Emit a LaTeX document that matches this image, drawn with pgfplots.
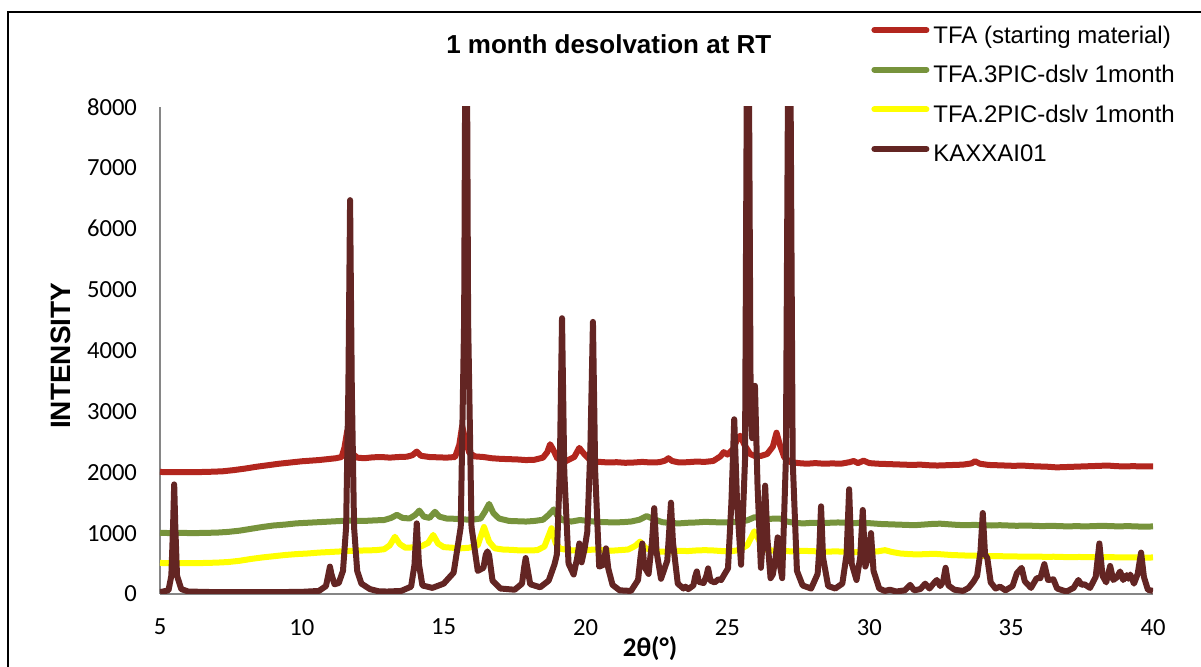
\documentclass[border=0pt]{standalone}
\usepackage{pgfplots}
\usepackage{pgfplotstable}
\pgfplotsset{compat=1.18}
\usepackage{fontspec}
\setmainfont{Liberation Sans}
\newfontfamily\carlito{Carlito}

\definecolor{tfared}{RGB}{178,38,30}
\definecolor{picgreen}{RGB}{119,147,60}
\definecolor{picyellow}{RGB}{255,255,0}
\definecolor{kaxmaroon}{RGB}{99,37,35}
\definecolor{axisgray}{RGB}{134,134,134}

% TFA (starting material)
\pgfplotstableread{
x y
5.0 2005
5.3 2000
5.6 2002
6.0 2000
6.4 2003
6.8 2008
7.2 2015
7.6 2035
8.0 2060
8.4 2090
8.8 2115
9.2 2140
9.6 2160
10.0 2180
10.3 2190
10.6 2200
10.9 2215
11.2 2230
11.4 2250
11.5 2400
11.6 2680
11.7 2500
11.8 2300
11.95 2240
12.2 2230
12.5 2245
12.8 2250
13.1 2240
13.4 2250
13.7 2255
13.9 2280
14.05 2340
14.2 2270
14.5 2250
14.8 2245
15.1 2240
15.4 2250
15.55 2450
15.65 2760
15.75 2550
15.9 2320
16.1 2260
16.4 2250
16.7 2230
17.0 2220
17.3 2215
17.6 2210
17.9 2200
18.2 2205
18.5 2240
18.65 2330
18.75 2460
18.85 2380
19.0 2230
19.3 2180
19.6 2250
19.78 2400
19.95 2300
20.2 2180
20.5 2170
20.8 2160
21.1 2165
21.4 2155
21.7 2160
22.0 2170
22.3 2160
22.6 2165
22.8 2190
22.92 2230
23.05 2185
23.3 2160
23.6 2165
23.9 2175
24.2 2170
24.5 2185
24.75 2260
24.87 2330
25.0 2290
25.2 2380
25.35 2550
25.45 2600
25.6 2450
25.8 2300
26.0 2260
26.2 2270
26.4 2300
26.6 2420
26.73 2650
26.85 2450
27.0 2250
27.2 2170
27.5 2150
27.8 2140
28.1 2150
28.4 2140
28.7 2145
29.0 2140
29.3 2165
29.45 2185
29.6 2150
29.8 2190
30.0 2150
30.3 2140
30.6 2135
30.9 2130
31.2 2125
31.5 2120
31.8 2125
32.1 2115
32.4 2110
32.7 2115
33.0 2120
33.3 2125
33.6 2145
33.73 2180
33.9 2140
34.2 2120
34.5 2115
34.8 2110
35.1 2105
35.4 2110
35.7 2100
36.0 2095
36.3 2090
36.6 2080
36.9 2085
37.2 2090
37.5 2095
37.8 2100
38.1 2105
38.4 2110
38.7 2100
39.0 2095
39.3 2100
39.6 2095
40.0 2095
}\tfastart

% TFA.3PIC desolvated, 1 month
\pgfplotstableread{
x y
5.0 1005
5.4 1000
5.8 1003
6.2 1000
6.6 1004
7.0 1008
7.4 1020
7.8 1040
8.2 1070
8.6 1100
9.0 1125
9.4 1140
9.8 1160
10.2 1170
10.6 1180
11.0 1190
11.4 1200
11.8 1205
12.2 1200
12.6 1210
12.9 1215
13.15 1250
13.35 1300
13.55 1250
13.8 1240
14.0 1300
14.14 1370
14.3 1270
14.5 1250
14.69 1350
14.85 1270
15.1 1240
15.4 1235
15.7 1225
16.0 1220
16.3 1240
16.45 1350
16.6 1480
16.75 1330
16.95 1240
17.3 1200
17.6 1195
17.9 1190
18.2 1200
18.5 1220
18.7 1300
18.88 1390
19.0 1290
19.2 1210
19.5 1190
19.8 1215
20.1 1200
20.4 1185
20.7 1180
21.0 1175
21.3 1180
21.6 1190
21.9 1220
22.15 1280
22.4 1230
22.7 1180
23.0 1165
23.3 1160
23.6 1170
23.9 1175
24.2 1185
24.5 1180
24.8 1175
25.1 1180
25.4 1185
25.7 1210
25.95 1260
26.2 1250
26.5 1235
26.85 1240
27.1 1190
27.4 1165
27.7 1160
28.0 1170
28.3 1165
28.6 1170
28.9 1175
29.2 1170
29.5 1165
29.8 1170
30.1 1160
30.4 1150
30.7 1145
31.0 1140
31.3 1135
31.6 1130
31.9 1140
32.2 1150
32.5 1155
32.8 1145
33.1 1135
33.4 1130
33.7 1135
34.0 1130
34.3 1125
34.6 1130
34.9 1125
35.2 1120
35.5 1125
35.8 1120
36.1 1115
36.4 1120
36.7 1115
37.0 1110
37.3 1115
37.6 1110
37.9 1115
38.2 1120
38.5 1115
38.8 1110
39.1 1115
39.4 1110
39.7 1105
40.0 1110
}\tfathreepic

% TFA.2PIC desolvated, 1 month
\pgfplotstableread{
x y
5.0 510
5.4 505
5.8 508
6.2 505
6.6 510
7.0 515
7.4 525
7.8 545
8.2 575
8.6 600
9.0 620
9.4 640
9.8 655
10.2 665
10.6 680
11.0 690
11.4 700
11.8 710
12.2 715
12.6 720
12.9 735
13.1 800
13.28 940
13.45 820
13.65 760
13.9 765
14.2 780
14.45 840
14.63 970
14.8 830
15.0 770
15.3 760
15.6 750
15.9 760
16.2 800
16.42 1100
16.6 860
16.8 750
17.1 730
17.4 725
17.7 715
18.0 715
18.3 720
18.55 780
18.8 1080
18.95 830
19.1 745
19.4 720
19.7 715
20.0 720
20.3 730
20.6 720
20.9 710
21.2 720
21.5 730
21.75 790
21.92 860
22.1 760
22.4 700
22.7 695
23.0 700
23.3 710
23.6 705
23.9 715
24.2 720
24.5 715
24.8 705
25.1 700
25.4 720
25.7 800
25.95 1030
26.15 850
26.4 720
26.7 710
27.0 705
27.3 700
27.6 710
27.9 705
28.2 700
28.5 695
28.8 700
29.1 695
29.4 690
29.7 685
30.0 690
30.3 700
30.55 720
30.8 690
31.1 665
31.4 655
31.7 650
32.0 655
32.3 660
32.6 650
32.9 640
33.2 635
33.5 630
33.8 628
34.1 625
34.4 622
34.7 620
35.0 618
35.3 615
35.6 612
35.9 615
36.2 610
36.5 612
36.8 608
37.1 605
37.4 608
37.7 605
38.0 603
38.3 606
38.6 604
38.9 600
39.2 603
39.5 600
39.8 598
40.0 600
}\tfatwopic

% KAXXAI01 calculated pattern
\pgfplotstableread{
x y
5.00 30
5.30 60
5.40 300
5.46 1100
5.50 1800
5.54 1100
5.60 300
5.75 80
6.00 40
7.00 30
8.00 30
9.00 30
10.00 35
10.60 50
10.85 130
10.94 330
10.99 450
11.04 330
11.15 160
11.30 180
11.45 380
11.56 1100
11.64 3400
11.70 6470
11.76 3400
11.84 1100
11.95 380
12.10 170
12.40 80
12.70 45
13.00 40
13.50 50
13.85 120
13.97 480
14.05 1160
14.13 480
14.25 140
14.60 100
15.00 170
15.35 350
15.60 1100
15.72 4500
15.79 12000
15.86 4500
15.98 1100
16.20 380
16.40 430
16.48 640
16.54 700
16.60 640
16.72 220
17.00 90
17.50 70
17.76 170
17.84 450
17.89 590
17.94 450
18.05 160
18.40 110
18.70 220
18.90 480
18.99 650
19.09 2000
19.17 4530
19.25 2000
19.40 500
19.58 320
19.70 580
19.78 830
19.86 520
19.96 730
20.06 1020
20.17 2400
20.26 4470
20.34 2000
20.48 450
20.63 480
20.72 750
20.80 420
20.95 150
21.20 60
21.60 50
21.85 230
21.94 620
22.00 830
22.07 450
22.22 330
22.34 850
22.42 1410
22.50 700
22.66 250
22.88 550
22.95 1050
23.01 1500
23.08 850
23.25 170
23.45 90
23.52 120
23.62 80
23.80 140
23.86 280
23.92 370
23.99 200
24.16 180
24.26 300
24.32 420
24.40 220
24.55 190
24.68 240
24.78 230
24.89 320
25.02 420
25.14 1500
25.24 2870
25.34 1500
25.48 480
25.62 2200
25.72 12000
25.82 3000
25.87 2560
25.97 3420
26.06 1800
26.18 430
26.26 1000
26.33 1780
26.41 900
26.52 260
26.60 320
26.70 600
26.77 930
26.84 500
26.93 260
27.06 2200
27.18 12000
27.30 2200
27.45 380
27.65 140
27.95 90
28.18 330
28.24 750
28.30 1440
28.37 600
28.55 130
28.80 90
29.05 170
29.20 650
29.29 1720
29.38 500
29.55 230
29.68 600
29.77 1380
29.86 450
29.96 600
30.06 1000
30.15 380
30.35 90
30.55 50
30.73 70
30.95 40
31.25 60
31.44 150
31.58 60
31.80 80
31.97 170
32.12 90
32.28 180
32.38 230
32.50 130
32.60 200
32.69 430
32.79 140
33.00 70
33.30 50
33.50 100
33.67 200
33.80 300
33.92 700
34.00 1330
34.08 650
34.16 590
34.28 190
34.45 90
34.61 120
34.80 60
35.05 130
35.20 340
35.37 430
35.48 210
35.70 100
35.90 260
36.03 260
36.17 490
36.30 230
36.49 240
36.62 90
36.95 40
37.20 100
37.37 230
37.48 150
37.58 160
37.78 100
37.98 280
38.11 830
38.22 300
38.35 190
38.49 460
38.60 230
38.72 270
38.84 370
38.95 230
39.07 310
39.13 250
39.20 320
39.33 170
39.46 330
39.58 680
39.68 280
39.82 70
40.00 50
}\kaxxai

\begin{document}
\begin{tikzpicture}[x=1pt,y=1pt]
\useasboundingbox (0,0) rectangle (600.5,333.5);
% chart frame (left and top edges)
\draw[line width=1pt] (3.75,-20) -- (3.75,327.25) -- (620,327.25);
\begin{axis}[
  at={(80pt,36.5pt)}, anchor=south west,
  scale only axis, width=496.5pt, height=243.5pt,
  xmin=5, xmax=40, ymin=0, ymax=8000,
  xtick={5,10,...,40}, ytick={0,1000,...,8000},
  axis x line*=bottom, axis y line*=left,
  axis line style={draw=axisgray, line width=0.9pt, -},
  major tick length=0pt, tick style={draw=none},
  /pgf/number format/assume math mode=true,
  /pgf/number format/set thousands separator={},
  ticklabel style={font=\carlito\fontsize{12.3}{14}\selectfont},
  yticklabel style={xshift=-8pt},
  xticklabel style={yshift=-9pt},
  title={1 month desolvation at RT},
  title style={font=\bfseries\fontsize{13}{15}\selectfont,
    at={(axis description cs:0.452,1.1045)}, anchor=center},
  xlabel={2θ(°)},
  xlabel style={font=\carlito\bfseries\fontsize{13.5}{16}\selectfont,
    at={(axis description cs:0.4935,-0.111)}, anchor=center},
  ylabel={INTENSITY},
  ylabel style={font=\bfseries\fontsize{14}{16}\selectfont,
    at={(axis description cs:-0.0997,0.489)}, anchor=center},
  every axis plot/.append style={line width=3pt, line join=round, mark=none},
  legend style={at={(axis description cs:0.716,1.1774)}, anchor=north west,
    draw=none, fill=none, inner sep=0pt, row sep=4.3pt, column sep=0pt,
    font=\fontsize{12}{14}\selectfont,
    nodes={inner sep=2pt, text height=9pt, text depth=2.5pt}},
  legend cell align=left,
  legend image code/.code={\draw[#1, line cap=round] (0pt,3.2pt) -- (26pt,3.2pt);},
]
\addplot[tfared] table {\tfastart};
\addlegendentry{TFA (starting material)}
\addplot[picgreen] table {\tfathreepic};
\addlegendentry{TFA.3PIC-dslv 1month}
\addplot[picyellow] table {\tfatwopic};
\addlegendentry{TFA.2PIC-dslv 1month}
\addplot[kaxmaroon] table {\kaxxai};
\addlegendentry{KAXXAI01}
\end{axis}
\end{tikzpicture}
\end{document}
